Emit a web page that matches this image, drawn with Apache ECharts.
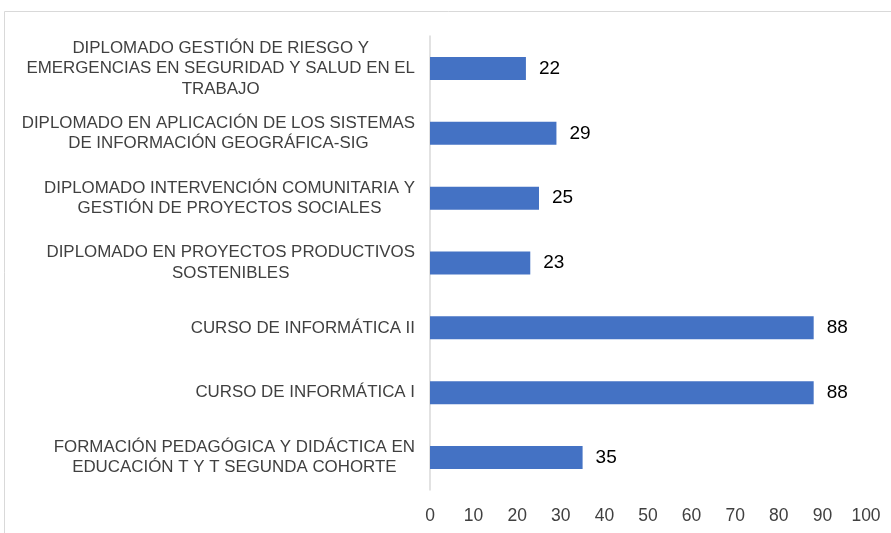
<!DOCTYPE html>
<html>
<head>
<meta charset="utf-8">
<script src="https://cdn.jsdelivr.net/npm/echarts@6/dist/echarts.min.js"></script>
<style>
  html, body { margin: 0; padding: 0; background: #fff; }
  #chart { width: 891px; height: 533px; }
</style>
</head>
<body>
<div id="chart"></div>
<script>
// categories listed top to bottom, as in the picture
const categories = [
  'DIPLOMADO GESTIÓN DE RIESGO Y\nEMERGENCIAS EN SEGURIDAD Y SALUD EN EL\nTRABAJO',
  'DIPLOMADO EN APLICACIÓN DE LOS SISTEMAS\nDE INFORMACIÓN GEOGRÁFICA-SIG',
  'DIPLOMADO INTERVENCIÓN COMUNITARIA Y\nGESTIÓN DE PROYECTOS SOCIALES',
  'DIPLOMADO EN PROYECTOS PRODUCTIVOS\nSOSTENIBLES',
  'CURSO DE INFORMÁTICA II',
  'CURSO DE INFORMÁTICA I',
  'FORMACIÓN PEDAGÓGICA Y DIDÁCTICA EN\nEDUCACIÓN T Y T SEGUNDA COHORTE'
];
const values = [22, 29, 25, 23, 88, 88, 35];
const xTicks = [0, 10, 20, 30, 40, 50, 60, 70, 80, 90, 100];

const font = '"Liberation Sans", Arial, sans-serif';

const chart = echarts.init(document.getElementById('chart'));
chart.setOption({
  animation: false,
  backgroundColor: '#fff',
  graphic: [{
    type: 'rect',
    shape: { x: 4.5, y: 11.5, width: 950, height: 600 },
    style: { fill: 'none', stroke: '#d9d9d9', lineWidth: 1 },
    silent: true
  }],
  grid: { left: 430, right: 25, top: 36, bottom: 43 },
  xAxis: {
    type: 'value',
    min: xTicks[0],
    max: xTicks[xTicks.length - 1],
    interval: 10,
    axisLine: { show: false },
    axisTick: { show: false },
    splitLine: { show: false },
    axisLabel: {
      margin: 17,
      color: '#404040',
      fontSize: 17.5,
      fontFamily: font
    }
  },
  yAxis: {
    type: 'category',
    inverse: true,
    data: categories,
    axisLine: { show: true, lineStyle: { color: '#d9d9d9', width: 1.5 } },
    axisTick: { show: false },
    axisLabel: {
      margin: 15,
      color: '#404040',
      fontSize: 16.9,
      fontFamily: font,
      lineHeight: 20.5,
      formatter: v => v.split('\n').map(l => '{c|' + l + '}').join('\n'),
      rich: {
        c: { align: 'center', fontSize: 16.9, lineHeight: 20.5, color: '#404040', fontFamily: font }
      }
    }
  },
  series: [{
    type: 'bar',
    data: values,
    barWidth: 23,
    itemStyle: { color: '#4472C4' },
    label: {
      show: true,
      position: 'right',
      distance: 13,
      color: '#000',
      fontSize: 19,
      fontFamily: font
    }
  }]
});
</script>
</body>
</html>
